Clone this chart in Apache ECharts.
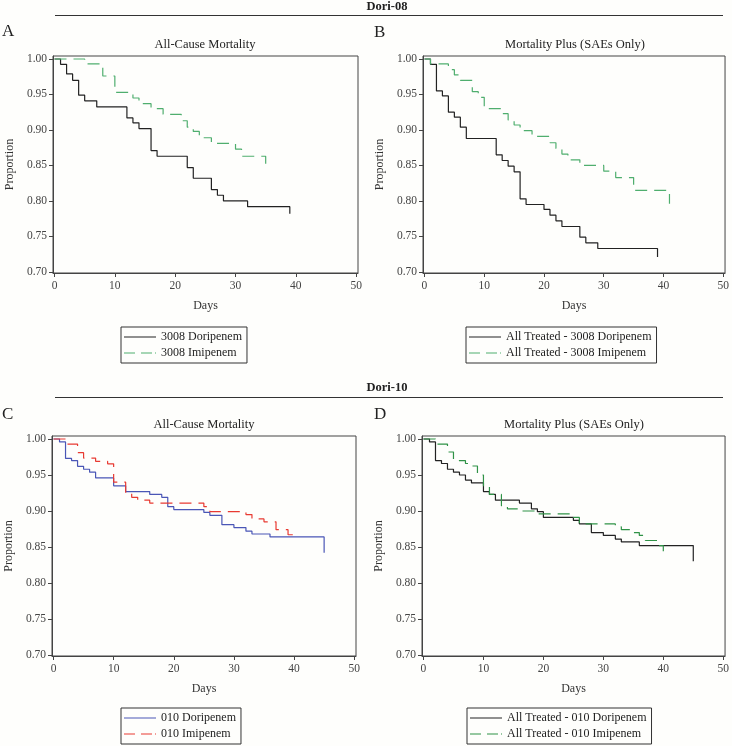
<!DOCTYPE html>
<html><head><meta charset="utf-8">
<script src="https://cdn.jsdelivr.net/npm/echarts@6/dist/echarts.min.js"></script>
<style>html,body{margin:0;padding:0;background:#fefefc}#c{width:732px;height:746px}</style>
</head><body><div id="c"></div><script>
// ---- data (days of event, survival proportion after event) ----
const xTicks = [0, 10, 20, 30, 40, 50];
const yTicks = [0.70, 0.75, 0.80, 0.85, 0.90, 0.95, 1.00];

const aDoriDays = [0,1,2,3,4,5,7,12,13,14,16,17,22,23,26,27,28,32,39];
const aDoriSurv = [1,0.9925,0.979,0.970,0.949,0.941,0.9325,0.917,0.910,0.902,0.871,0.863,0.847,0.832,0.816,0.808,0.800,0.792,0.782];
const aImiDays = [0,5,8,10,13,14,16,18,21,22,23,24,26,30,31,35];
const aImiSurv = [1,0.993,0.976,0.953,0.945,0.937,0.930,0.922,0.913,0.904,0.898,0.889,0.881,0.873,0.863,0.845];

const bDoriDays = [0,1,2,3,4,5,6,7,12,13,14,15,16,17,20,21,22,23,26,27,29,39];
const bDoriSurv = [1,0.9925,0.955,0.948,0.925,0.918,0.904,0.888,0.865,0.857,0.849,0.841,0.803,0.795,0.788,0.780,0.772,0.764,0.749,0.741,0.733,0.721];
const bImiDays = [0,1,4,5,6,8,9,10,13,14,15,16,18,21,22,23,24,26,30,32,35,41];
const bImiSurv = [1,0.993,0.985,0.9775,0.970,0.954,0.946,0.930,0.923,0.914,0.907,0.899,0.891,0.882,0.874,0.866,0.858,0.850,0.842,0.833,0.815,0.796];

const cDoriDays = [0,1,2,3,4,5,6,7,10,12,16,18,19,20,25,26,28,30,32,33,36,45];
const cDoriSurv = [1,0.996,0.973,0.970,0.962,0.958,0.954,0.946,0.935,0.927,0.923,0.919,0.906,0.902,0.898,0.894,0.881,0.877,0.872,0.868,0.864,0.842];
const cImiDays = [0,2,4,5,7,9,10,12,13,14,16,25,26,32,33,35,37,39,40];
const cImiSurv = [1,0.993,0.981,0.9735,0.969,0.9655,0.940,0.926,0.919,0.915,0.911,0.906,0.899,0.895,0.889,0.885,0.874,0.867,0.862];

const dDoriDays = [0,1,2,3,4,5,6,7,8,10,11,12,16,18,19,20,25,26,28,30,32,33,36,45];
const dDoriSurv = [1,0.996,0.970,0.966,0.958,0.954,0.950,0.943,0.939,0.927,0.923,0.915,0.911,0.903,0.899,0.891,0.887,0.882,0.870,0.866,0.861,0.857,0.852,0.830];
const dImiDays = [0,2,4,5,7,8,9,10,11,13,14,16,19,25,26,32,33,35,36,37,39,40];
const dImiSurv = [1,0.993,0.982,0.970,0.966,0.9625,0.950,0.935,0.923,0.907,0.903,0.900,0.896,0.891,0.882,0.878,0.874,0.870,0.866,0.859,0.852,0.844];

const legendA = ['3008 Doripenem', '3008 Imipenem'];
const legendB = ['All Treated - 3008 Doripenem', 'All Treated - 3008 Imipenem'];
const legendC = ['010 Doripenem', '010 Imipenem'];
const legendD = ['All Treated - 010 Doripenem', 'All Treated - 010 Imipenem'];
const panelTitles = ['All-Cause Mortality', 'Mortality Plus (SAEs Only)', 'All-Cause Mortality', 'Mortality Plus (SAEs Only)'];

// ---- chart ----
const FONT = '"Liberation Serif", "DejaVu Serif", serif';
const zip = (d, s) => d.map((x, i) => [x, s[i]]);
const axisCol = '#444';
const grids = [
  {left: 53, top: 56, width: 305, height: 217},
  {left: 423, top: 56, width: 305, height: 217},
  {left: 52, top: 436, width: 304, height: 220},
  {left: 422, top: 436, width: 305, height: 220}
];
function xAx(gi) {
  return {gridIndex: gi, type: 'value', min: -0.25, max: 50.3,
    name: 'Days', nameLocation: 'middle', nameGap: 27,
    nameTextStyle: {fontFamily: FONT, fontSize: 12, color: '#333'},
    axisLine: {show: true, onZero: false, lineStyle: {color: axisCol, width: 1}},
    axisTick: {show: true, length: 4, customValues: xTicks, lineStyle: {color: axisCol}},
    axisLabel: {customValues: xTicks, margin: 7, fontFamily: FONT, fontSize: 11.5, color: '#444'},
    splitLine: {show: false}};
}
function yAx(gi) {
  return {gridIndex: gi, type: 'value', min: 0.6985, max: 1.0042,
    name: 'Proportion', nameLocation: 'middle', nameGap: 37, nameRotate: 90,
    nameTextStyle: {fontFamily: FONT, fontSize: 12, color: '#333'},
    axisLine: {show: true, onZero: false, lineStyle: {color: axisCol, width: 1}},
    axisTick: {show: true, length: 4, customValues: yTicks, lineStyle: {color: axisCol}},
    axisLabel: {customValues: yTicks, margin: 6, fontFamily: FONT, fontSize: 11.5, color: '#444',
      formatter: v => Number(v).toFixed(2)},
    splitLine: {show: false}};
}
function ser(name, gi, d, s, color, dashed) {
  return {name, type: 'line', xAxisIndex: gi, yAxisIndex: gi, step: 'end',
    symbol: 'none', data: zip(d, s), animation: false,
    lineStyle: {color, width: 1.2, type: dashed ? [12, 7] : 'solid'},
    itemStyle: {color}};
}
const ICON_SOLID = 'path://M0,0h32v1h-32z';
const ICON_DASH = 'path://M0,0h11v1h-11zM17,0h11v1h-11zM31,0h1v1h-1z';
function leg(names, left, top) {
  return {data: [{name: names[0], icon: ICON_SOLID}, {name: names[1], icon: ICON_DASH}],
    orient: 'vertical', left, top, itemWidth: 32, itemHeight: 1.3, itemGap: 4,
    padding: [4, 5, 4, 3], borderColor: '#333', borderWidth: 1, borderRadius: 0,
    textStyle: {fontFamily: FONT, fontSize: 12, color: '#222'}, selectedMode: false};
}
const green1 = '#4fae6e', green2 = '#2f9246', blk = '#222', blue = '#4a56b6', red = '#e83a32';

const txt = (text, x, y, size, weight, align) => ({type: 'text', x, y,
  style: {text, fill: '#222', font: (weight || 'normal') + ' ' + size + 'px ' + FONT,
    textAlign: align || 'center', textVerticalAlign: 'middle'}});
const hline = (x1, x2, y) => ({type: 'line', shape: {x1, y1: y, x2, y2: y}, style: {stroke: '#333', lineWidth: 1}});

const chart = echarts.init(document.getElementById('c'), null, {renderer: 'canvas'});
chart.setOption({
  backgroundColor: '#fefefc',
  animation: false,
  grid: grids.map(g => Object.assign({show: true, borderColor: axisCol, borderWidth: 1, backgroundColor: 'transparent'}, g)),
  xAxis: [0, 1, 2, 3].map(xAx),
  yAxis: [0, 1, 2, 3].map(yAx),
  legend: [leg(legendA, 121, 327), leg(legendB, 466, 327), leg(legendC, 121, 708), leg(legendD, 467, 708)],
  series: [
    ser(legendA[0], 0, aDoriDays, aDoriSurv, blk, false),
    ser(legendA[1], 0, aImiDays, aImiSurv, green1, true),
    ser(legendB[0], 1, bDoriDays, bDoriSurv, blk, false),
    ser(legendB[1], 1, bImiDays, bImiSurv, green1, true),
    ser(legendC[0], 2, cDoriDays, cDoriSurv, blue, false),
    ser(legendC[1], 2, cImiDays, cImiSurv, red, true),
    ser(legendD[0], 3, dDoriDays, dDoriSurv, blk, false),
    ser(legendD[1], 3, dImiDays, dImiSurv, green2, true)
  ],
  graphic: [
    txt('Dori-08', 387, 7, 12.5, 'bold'),
    hline(55, 723, 15.5),
    txt('A', 2, 32, 17, 'normal', 'left'),
    txt('B', 374, 33, 17, 'normal', 'left'),
    txt(panelTitles[0], 205, 45, 12.5),
    txt(panelTitles[1], 575, 45, 12.5),
    txt('Dori-10', 387, 388, 12.5, 'bold'),
    hline(55, 723, 397.5),
    txt('C', 2, 415, 17, 'normal', 'left'),
    txt('D', 374, 415, 17, 'normal', 'left'),
    txt(panelTitles[2], 204, 425, 12.5),
    txt(panelTitles[3], 574, 425, 12.5)
  ]
});
</script></body></html>
